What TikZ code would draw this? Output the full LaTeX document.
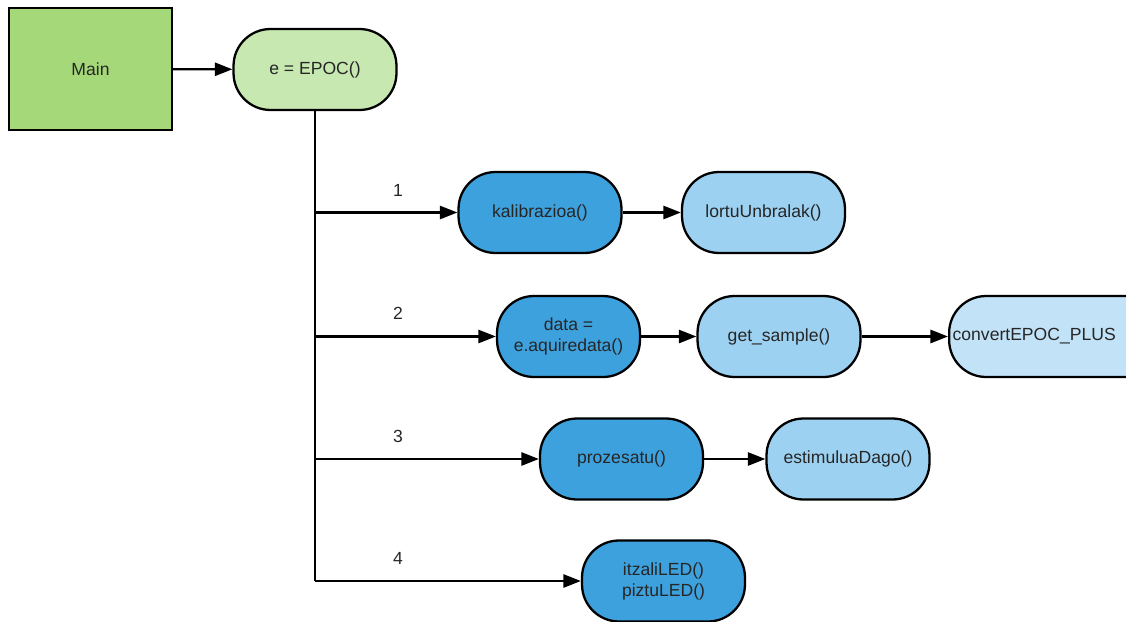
\documentclass[tikz,border=0pt]{standalone}
\usepackage{fontspec}
\setmainfont{Liberation Sans}
\usetikzlibrary{arrows.meta}
\definecolor{maingreen}{HTML}{A5D878}
\definecolor{palegreen}{HTML}{C7E8B0}
\definecolor{darkblue}{HTML}{3DA1DE}
\definecolor{midblue}{HTML}{9DD1F1}
\definecolor{paleblue}{HTML}{C2E3F7}
\tikzset{
  base/.style={draw=black, line width=1.3pt, font=\fontsize{10}{12}\selectfont, text=black!85, align=center},
  pill/.style={base, rectangle, rounded corners=0.74cm, minimum width=3.26cm, minimum height=1.62cm},
  box/.style={base, rectangle, minimum width=3.26cm, minimum height=2.44cm},
  conn/.style={line width=1.3pt, -{Triangle[length=10pt,width=7.5pt]}},
  plainline/.style={line width=1.3pt},
  num/.style={font=\fontsize{10}{12}\selectfont, text=black!85}
}
\begin{document}
\begin{tikzpicture}[x=0.02cm, y=-0.02cm]
\useasboundingbox (0,0) rectangle (1126,622);
\node[box, fill=maingreen] (main) at (90.5,69) {Main};
\node[pill, fill=palegreen] (epoc) at (315,69.5) {e = EPOC()};
\draw[conn] (main) -- (epoc);

\node[pill, fill=darkblue] (kal) at (540,212.5) {kalibrazioa()};
\node[pill, fill=midblue] (lortu) at (763.5,212.5) {lortuUnbralak()};
\node[pill, fill=darkblue, minimum width=2.86cm] (data) at (568.5,336.5) {data =\\e.aquiredata()};
\node[pill, fill=midblue] (gets) at (779,336.5) {get\_sample()};
\node[pill, fill=paleblue, anchor=west, text width=4.4cm, align=left, inner xsep=2pt] (conv) at (948,336.5) {convertEPOC\_PLUS};
\node[pill, fill=darkblue] (proz) at (621.5,459) {prozesatu()};
\node[pill, fill=midblue] (estim) at (848,459) {estimuluaDago()};
\node[pill, fill=darkblue] (led) at (663.5,581) {itzaliLED()\\piztuLED()};

\coordinate (b1) at (315,212.5);
\coordinate (b2) at (315,336.5);
\coordinate (b3) at (315,459);
\coordinate (b4) at (315,581);
\draw[plainline] (epoc.south) -- (b4);
\draw[conn] (b1) -- (kal);
\draw[conn] (b2) -- (data);
\draw[conn] (b3) -- (proz);
\draw[conn] (b4) -- (led);
\draw[conn] (kal) -- (lortu);
\draw[conn] (data) -- (gets);
\draw[conn] (gets) -- (conv);
\draw[conn] (proz) -- (estim);

\node[num] (n1) at (398,190) {1};
\node[num] (n2) at (398,313) {2};
\node[num] (n3) at (398,436) {3};
\node[num] (n4) at (398,558) {4};
\end{tikzpicture}
\end{document}
